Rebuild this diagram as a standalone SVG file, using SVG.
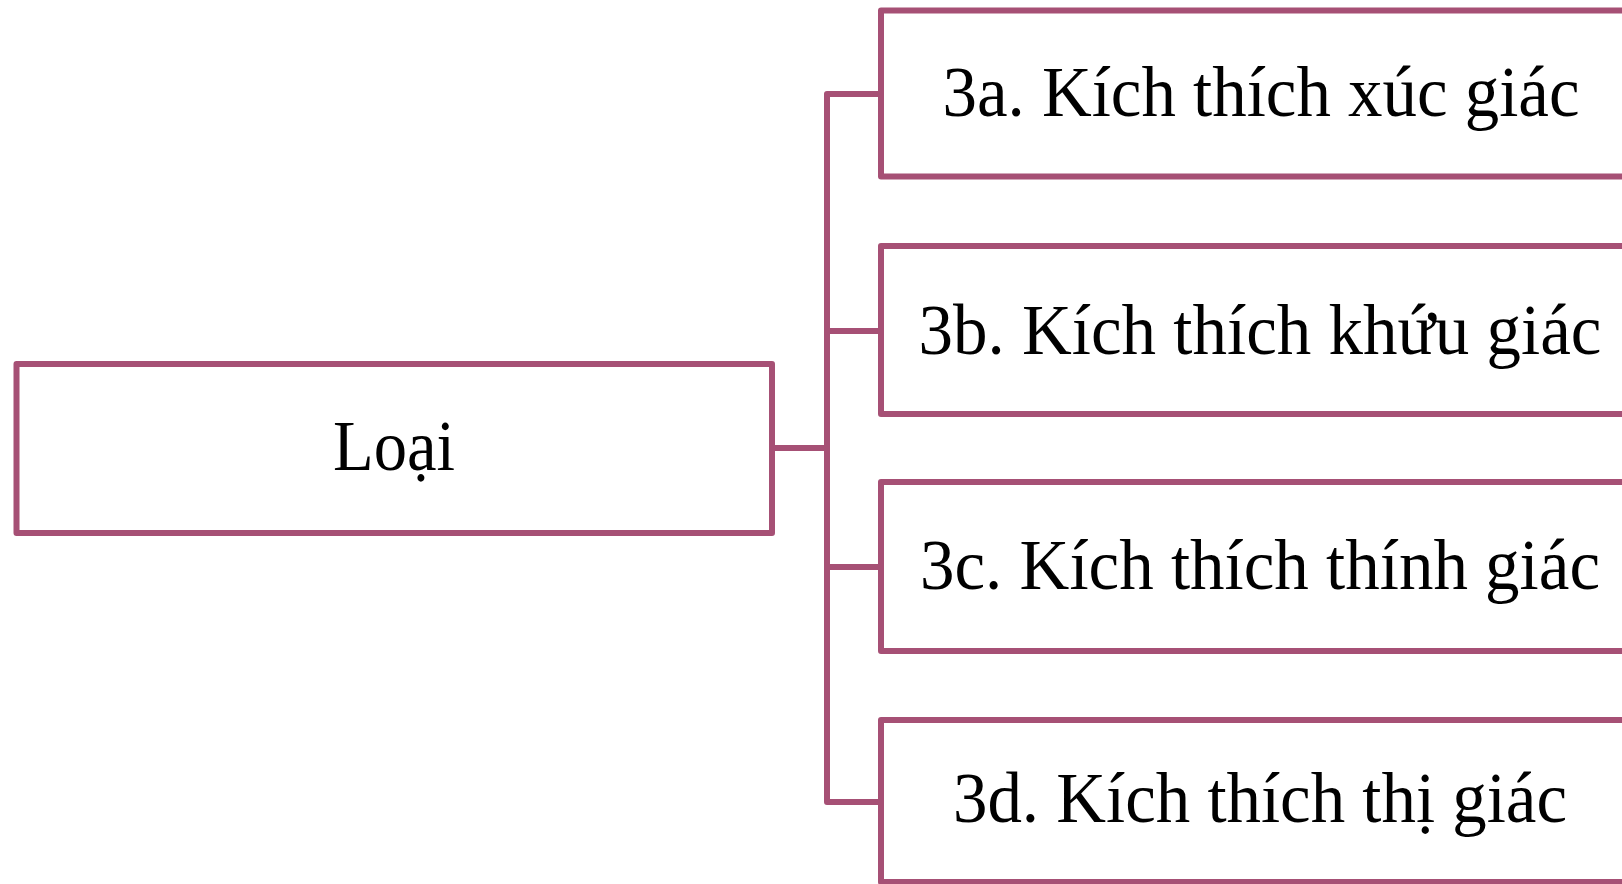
<svg xmlns="http://www.w3.org/2000/svg" width="1622" height="884" viewBox="0 0 1622 884">
  <style>
    .box { fill: #ffffff; stroke: #A65075; stroke-width: 6; stroke-linejoin: round; }
    .link { fill: none; stroke: #A65075; stroke-width: 6; stroke-linejoin: round; stroke-linecap: butt; }
    .label { font-family: "Liberation Serif", "Times New Roman", serif; font-size: 72px; fill: #000000; text-anchor: middle; }
  </style>
  <rect width="1622" height="884" fill="#ffffff"/>

  <!-- connectors: trunk with first/last branches, then the inner branches -->
  <g id="connectors">
    <path class="link" d="M772 448 H827"/>
    <path class="link" d="M881 94 H827 V802 H881"/>
    <path class="link" d="M827 331 H881"/>
    <path class="link" d="M827 567 H881"/>
  </g>

  <g id="node-loai">
    <rect class="box" x="16.5" y="364" width="755.5" height="169"/>
    <text class="label" x="394" y="470" textLength="122" lengthAdjust="spacingAndGlyphs">Loại</text>
  </g>

  <g id="node-3a">
    <rect class="box" x="881" y="10.5" width="780" height="166"/>
    <text class="label" x="1261" y="116" textLength="637" lengthAdjust="spacingAndGlyphs">3a. Kích thích xúc giác</text>
  </g>

  <g id="node-3b">
    <rect class="box" x="881" y="246" width="780" height="168"/>
    <text class="label" x="1260" y="354" textLength="683" lengthAdjust="spacingAndGlyphs">3b. Kích thích khứu giác</text>
  </g>

  <g id="node-3c">
    <rect class="box" x="881" y="482" width="780" height="169"/>
    <text class="label" x="1260" y="589" textLength="680" lengthAdjust="spacingAndGlyphs">3c. Kích thích thính giác</text>
  </g>

  <g id="node-3d">
    <rect class="box" x="881" y="720" width="780" height="162"/>
    <text class="label" x="1260" y="822" textLength="614" lengthAdjust="spacingAndGlyphs">3d. Kích thích thị giác</text>
  </g>
</svg>
